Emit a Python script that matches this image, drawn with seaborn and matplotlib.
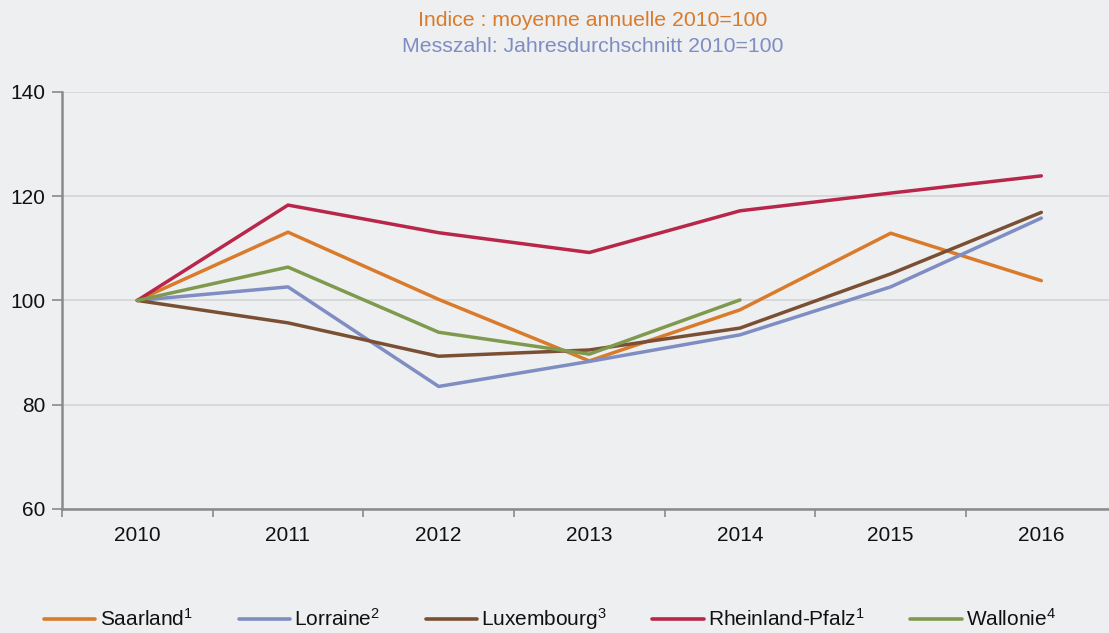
import pandas as pd
import matplotlib
matplotlib.use("Agg")
import matplotlib.pyplot as plt
import seaborn as sns
import numpy as np

# valeurs (indice 2010=100)
annees = [2010, 2011, 2012, 2013, 2014, 2015, 2016]
saarland = [100, 113.1, 100.2, 88.4, 98.2, 112.9, 103.8]
lorraine = [100, 102.6, 83.5, 88.3, 93.4, 102.6, 115.8]
luxembourg = [100, 95.7, 89.3, 90.5, 94.7, 105.1, 116.9]
rheinland_pfalz = [100, 118.3, 113.0, 109.2, 117.2, 120.6, 123.9]
wallonie = [100, 106.4, 93.9, 89.7, 100.1, np.nan, np.nan]

regions = ["Saarland", "Lorraine", "Luxembourg", "Rheinland-Pfalz", "Wallonie"]
notes = ["1", "2", "3", "1", "4"]
series = [saarland, lorraine, luxembourg, rheinland_pfalz, wallonie]

couleurs = ["#D97B2B", "#7F8DC2", "#7A4F34", "#B8264A", "#7F9A4E"]
fond = "#EEEFF1"
gris_axe = "#8A8A8A"
gris_grille = "#D3D4D6"
texte = "#111111"

df = pd.DataFrame({"annee": annees})
for nom, vals in zip(regions, series):
    df[nom] = vals
df_long = df.melt(id_vars="annee", var_name="region", value_name="indice").dropna()

sns.set_theme(style="white")
plt.rcParams["font.family"] = ["Liberation Sans", "DejaVu Sans"]
plt.rcParams["mathtext.default"] = "regular"

fig = plt.figure(figsize=(11.09, 6.33), dpi=100, facecolor=fond)
ax = fig.add_axes([0.0559, 0.196, 0.951, 0.6587])
ax.set_facecolor(fond)

sns.lineplot(
    data=df_long, x="annee", y="indice", hue="region", hue_order=regions,
    palette=couleurs, linewidth=2.5, ax=ax, legend=False, sort=False,
)

ax.set_xlim(2009.5, 2016.5)
ax.set_ylim(60, 140)
ax.set_yticks([60, 80, 100, 120, 140])
ax.set_xticks(annees)
ax.set_xticks([a + 0.5 for a in annees[:-1]] + [2009.5], minor=True)
ax.tick_params(axis="x", which="major", bottom=False, length=0, labelsize=15, pad=12, labelcolor=texte)
ax.tick_params(axis="x", which="minor", bottom=True, length=6, color=gris_axe, width=1.2)
ax.tick_params(axis="y", left=True, length=7, color=gris_axe, width=1.2, labelsize=15, pad=5, labelcolor=texte)
ax.yaxis.grid(True, color=gris_grille, linewidth=1.2)
ax.set_axisbelow(True)
ax.set_xlabel("")
ax.set_ylabel("")

for cote in ["top", "right"]:
    ax.spines[cote].set_visible(False)
for cote in ["left", "bottom"]:
    ax.spines[cote].set_color(gris_axe)
    ax.spines[cote].set_linewidth(1.8)

fig.text(0.534, 0.968, "Indice : moyenne annuelle 2010=100", ha="center", va="center",
         fontsize=15.3, color="#D97B2B")
fig.text(0.534, 0.927, "Messzahl: Jahresdurchschnitt 2010=100", ha="center", va="center",
         fontsize=15.3, color="#7F8DC2")

handles = [plt.Line2D([0], [0], color=c, linewidth=2.6) for c in couleurs]
labels = [f"{r}$^{{{n}}}$" for r, n in zip(regions, notes)]
leg = fig.legend(handles, labels, loc="center left", bbox_to_anchor=(0.0325, 0.022), ncol=5,
                 frameon=False, fontsize=15, handlelength=2.45, handletextpad=0.2,
                 columnspacing=2.2, borderaxespad=0)
for t in leg.get_texts():
    t.set_color(texte)

fig.savefig("out.png", dpi=100, facecolor=fond)
